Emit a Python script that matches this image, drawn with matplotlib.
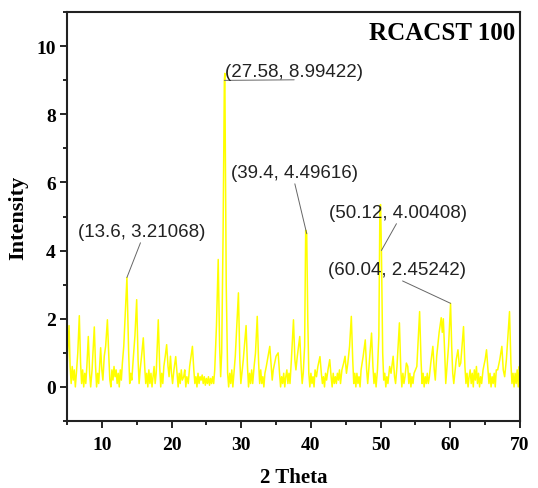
import matplotlib
matplotlib.use("Agg")
import matplotlib.pyplot as plt
from matplotlib.ticker import MultipleLocator

# vertices of the XRD trace (2 theta, intensity)
two_theta = [
    5.0, 5.15, 5.3, 5.45, 5.6, 5.75, 5.9, 6.05, 6.2, 6.35, 6.55, 6.77, 6.95, 7.1, 7.25, 7.4, 7.55, 7.7, 7.85, 8.06,
    8.25, 8.4, 8.6, 8.92, 9.1, 9.25, 9.4, 9.55, 9.83, 10.0, 10.15, 10.35, 10.55, 10.8, 11.0, 11.15, 11.3, 11.45, 11.6, 11.75,
    11.9, 12.05, 12.2, 12.35, 12.5, 12.65, 12.8, 12.95, 13.15, 13.6, 13.85, 14.0, 14.15, 14.3, 14.5, 14.75, 15.0, 15.2, 15.35, 15.5,
    15.7, 15.95, 16.15, 16.3, 16.45, 16.6, 16.75, 16.9, 17.05, 17.2, 17.35, 17.5, 17.65, 17.8, 18.1, 18.3, 18.45, 18.6, 18.75, 18.9,
    19.1, 19.3, 19.5, 19.65, 19.85, 20.0, 20.15, 20.35, 20.6, 20.8, 20.95, 21.1, 21.25, 21.4, 21.55, 21.75, 21.9, 22.05, 22.2, 22.4,
    22.6, 22.8, 23.0, 23.2, 23.35, 23.5, 23.65, 23.8, 23.95, 24.1, 24.25, 24.4, 24.55, 24.7, 24.85, 25.0, 25.15, 25.3, 25.45, 25.6,
    25.75, 25.9, 26.05, 26.2, 26.45, 26.7, 26.9, 27.05, 27.2, 27.4, 27.58, 27.65, 27.85, 28.05, 28.2, 28.35, 28.5, 28.65, 28.8, 28.95,
    29.15, 29.6, 29.8, 29.95, 30.1, 30.3, 30.7, 30.9, 31.05, 31.2, 31.35, 31.5, 31.65, 31.85, 32.05, 32.3, 32.5, 32.65, 32.8, 32.95,
    33.1, 33.25, 33.4, 33.6, 33.85, 34.1, 34.3, 34.45, 34.6, 34.8, 35.0, 35.3, 35.5, 35.65, 35.8, 35.95, 36.1, 36.25, 36.4, 36.55,
    36.7, 36.85, 37.0, 37.2, 37.5, 37.7, 37.85, 38.05, 38.4, 38.6, 38.75, 38.9, 39.1, 39.25, 39.4, 39.55, 39.7, 39.85, 40.0, 40.15,
    40.3, 40.45, 40.6, 40.8, 41.0, 41.3, 41.5, 41.65, 41.8, 41.95, 42.1, 42.25, 42.45, 42.7, 42.9, 43.05, 43.2, 43.35, 43.5, 43.65,
    43.8, 43.95, 44.1, 44.25, 44.45, 44.7, 44.9, 45.1, 45.3, 45.55, 45.8, 46.0, 46.15, 46.3, 46.45, 46.6, 46.75, 46.9, 47.05, 47.2,
    47.5, 47.8, 48.0, 48.15, 48.3, 48.7, 48.9, 49.05, 49.2, 49.35, 49.55, 49.75, 49.9, 50.0, 50.12, 50.3, 50.45, 50.6, 50.75, 50.9,
    51.05, 51.3, 51.5, 51.8, 52.0, 52.15, 52.35, 52.7, 52.9, 53.05, 53.2, 53.35, 53.5, 53.7, 53.9, 54.05, 54.2, 54.35, 54.5, 54.65,
    54.8, 55.0, 55.2, 55.6, 55.8, 55.95, 56.1, 56.25, 56.4, 56.55, 56.7, 56.85, 57.0, 57.2, 57.5, 57.7, 57.85, 58.05, 58.4, 58.7,
    58.85, 59.0, 59.2, 59.35, 59.5, 59.75, 60.04, 60.2, 60.35, 60.5, 60.65, 60.85, 61.1, 61.3, 61.5, 61.9, 62.1, 62.25, 62.4, 62.55,
    62.7, 62.85, 63.0, 63.15, 63.3, 63.45, 63.6, 63.75, 63.9, 64.05, 64.2, 64.35, 64.5, 64.7, 65.0, 65.2, 65.4, 65.55, 65.7, 65.85,
    66.0, 66.15, 66.3, 66.45, 66.6, 66.8, 67.1, 67.4, 67.6, 67.8, 68.05, 68.5, 68.7, 68.85, 69.0, 69.15, 69.3, 69.45, 69.6, 69.75,
    69.9, 70.0,
]
intensity = [
    0.5, 1.2, 1.8, 0.6, 0.1, 0.6, 0.2, 0.5, 0.0, 0.4, 1.0, 2.09, 0.7, 0.1, 0.5, 0.0, 0.4, 0.1, 0.6, 1.48,
    0.4, 0.0, 0.5, 1.76, 0.6, 0.0, 0.4, 0.1, 1.15, 0.5, 0.2, 0.9, 1.2, 1.97, 0.9, 0.2, 0.0, 0.5, 0.2, 0.6,
    0.3, 0.5, 0.1, 0.4, 0.0, 0.5, 0.2, 0.7, 1.2, 3.21, 1.0, 0.1, 0.4, 0.2, 0.8, 1.5, 2.56, 0.8, 0.1, 0.5,
    0.9, 1.44, 0.6, 0.1, 0.4, 0.0, 0.5, 0.1, 0.4, 0.0, 0.3, 0.6, 0.1, 0.4, 1.97, 0.6, 0.0, 0.4, 0.1, 0.6,
    0.9, 1.24, 0.6, 0.3, 0.9, 0.4, 0.1, 0.5, 0.89, 0.4, 0.0, 0.4, 0.1, 0.5, 0.2, 0.3, 0.5, 0.0, 0.3, 0.1,
    0.6, 0.9, 1.19, 0.5, 0.1, 0.3, 0.0, 0.4, 0.1, 0.3, 0.2, 0.35, 0.1, 0.3, 0.05, 0.25, 0.1, 0.3, 0.05, 0.25,
    0.1, 0.3, 0.1, 0.5, 1.8, 3.74, 1.2, 0.3, 1.0, 4.5, 8.99, 9.2, 3.0, 0.4, 0.0, 0.4, 0.1, 0.5, 0.0, 0.4,
    0.9, 2.76, 0.8, 0.1, 0.4, 0.8, 1.8, 0.6, 0.0, 0.4, 0.1, 0.5, 0.1, 0.6, 1.0, 2.07, 0.7, 0.1, 0.5, 0.1,
    0.3, 0.0, 0.4, 0.6, 0.9, 1.19, 0.6, 0.2, 0.5, 0.7, 0.9, 1.0, 0.4, 0.0, 0.3, 0.1, 0.4, 0.0, 0.3, 0.5,
    0.1, 0.4, 0.1, 0.8, 1.97, 0.8, 0.5, 0.9, 1.48, 0.6, 0.1, 0.4, 1.2, 4.6, 4.5, 2.0, 0.4, 0.0, 0.4, 0.1,
    0.3, 0.0, 0.5, 0.3, 0.6, 0.89, 0.4, 0.1, 0.3, 0.0, 0.4, 0.2, 0.5, 0.8, 0.3, 0.0, 0.4, 0.1, 0.3, 0.1,
    0.4, 0.2, 0.5, 0.1, 0.5, 0.7, 0.9, 0.4, 0.7, 1.2, 2.07, 0.8, 0.1, 0.4, 0.0, 0.4, 0.1, 0.3, 0.0, 0.5,
    0.9, 1.38, 0.5, 0.1, 0.5, 1.58, 0.6, 0.1, 0.4, 0.0, 0.5, 1.5, 5.3, 5.35, 4.0, 1.0, 0.2, 0.4, 0.0, 0.3,
    0.1, 0.6, 0.4, 0.9, 0.3, 0.1, 0.6, 1.88, 0.5, 0.0, 0.4, 0.1, 0.3, 0.7, 0.6, 0.1, 0.4, 0.0, 0.3, 0.1,
    0.4, 0.5, 0.6, 2.21, 0.8, 0.1, 0.4, 0.0, 0.3, 0.1, 0.4, 0.1, 0.3, 0.7, 1.19, 0.5, 0.2, 0.9, 1.6, 2.03,
    1.6, 2.0, 1.0, 0.1, 0.5, 1.2, 2.45, 1.2, 0.4, 0.1, 0.4, 0.8, 1.09, 0.6, 0.7, 1.77, 0.6, 0.1, 0.4, 0.0,
    0.3, 0.5, 0.1, 0.4, 0.0, 0.5, 0.2, 0.6, 0.1, 0.4, 0.0, 0.3, 0.1, 0.5, 0.8, 1.09, 0.5, 0.1, 0.4, 0.0,
    0.3, 0.1, 0.4, 0.0, 0.5, 0.5, 0.8, 1.19, 0.5, 0.3, 0.8, 2.21, 0.7, 0.1, 0.4, 0.0, 0.4, 0.1, 0.5, 0.0,
    0.6, 0.4,
]

# labelled peaks and where their labels sit
peak_x = [13.6, 27.58, 39.4, 50.12, 60.04]
peak_y = [3.21068, 8.99422, 4.49616, 4.00408, 2.45242]
label_x = [15.7, 37.6, 37.6, 52.5, 52.3]
label_y = [4.56, 9.26, 6.29, 5.12, 3.44]

serif = "Liberation Serif"

fig = plt.figure(figsize=(5.38, 4.89), dpi=100)
ax = fig.add_axes([0.1245, 0.137, 0.842, 0.8364])

ax.plot(two_theta, intensity, color="#ffff00", lw=1.1)

for px, py, tx, ty in zip(peak_x, peak_y, label_x, label_y):
    ax.annotate(f"({px:g}, {py:g})", xy=(px, py), xytext=(tx, ty),
                ha="center", va="center", fontsize=13.5, color="#222222",
                family="Liberation Sans",
                arrowprops=dict(arrowstyle="-", color="#666666", lw=0.7,
                                relpos=(0.5, 0.0), shrinkA=0, shrinkB=0))

ax.text(69.3, 10.4, "RCACST 100", ha="right", va="center",
        fontsize=18, fontweight="bold", family=serif)

ax.set_xlim(5, 70)
ax.set_ylim(-1, 11)
ax.xaxis.set_major_locator(MultipleLocator(10))
ax.xaxis.set_minor_locator(MultipleLocator(5))
ax.yaxis.set_major_locator(MultipleLocator(2))
ax.yaxis.set_minor_locator(MultipleLocator(1))

ax.tick_params(which="both", direction="out", width=1.2, top=False, right=False)
ax.tick_params(which="major", length=5)
ax.tick_params(which="minor", length=3)
ax.tick_params(axis="y", pad=3)
ax.tick_params(axis="x", pad=6)
for lab in ax.get_xticklabels() + ax.get_yticklabels():
    lab.set_family(serif)
    lab.set_fontweight("bold")
    lab.set_fontsize(14)

for sp in ax.spines.values():
    sp.set_linewidth(1.5)
    sp.set_color("#222222")

ax.set_xlabel("2 Theta", family=serif, fontweight="bold", fontsize=15, labelpad=10)
ax.set_ylabel("Intensity", family=serif, fontweight="bold", fontsize=16, labelpad=6)

plt.savefig("out.png", dpi=100)
